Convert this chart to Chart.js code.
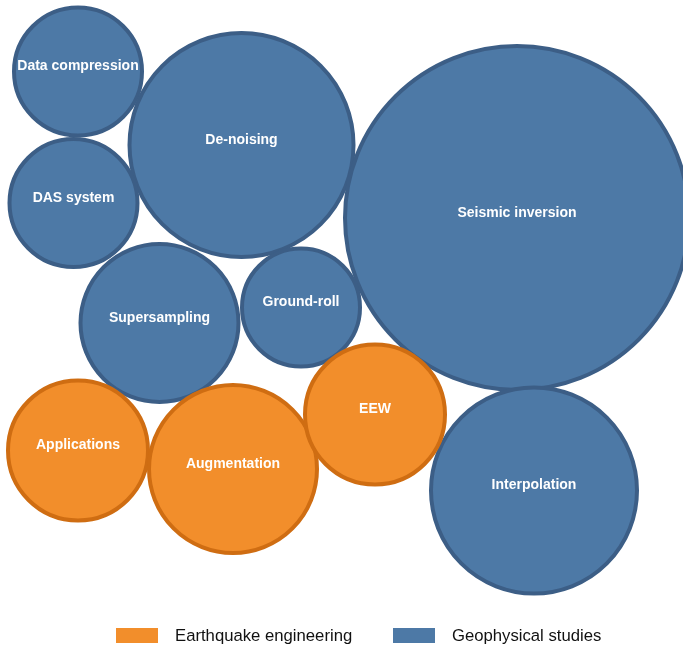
<!DOCTYPE html>
<html>
<head>
<meta charset="utf-8">
<script src="https://cdn.jsdelivr.net/npm/chart.js@4.4.1/dist/chart.umd.min.js"></script>
<style>
  html, body { margin: 0; padding: 0; background: #ffffff; }
  #wrap { position: relative; width: 683px; height: 650px; overflow: hidden; }
  #chart { position: absolute; left: 0; top: 0; }
  .lg-item { position: absolute; top: 628px; height: 15px; display: flex; align-items: center;
             font-family: "Liberation Sans", Arial, sans-serif; font-size: 16.7px; color: #111111; white-space: nowrap; }
  .lg-box { width: 42px; height: 15px; margin-right: 17px; flex: none; }
</style>
</head>
<body>
<div id="wrap">
  <canvas id="chart" width="683" height="650"></canvas>
</div>
<script>
// Series names
const seriesNames = ['Earthquake engineering', 'Geophysical studies'];

// Earthquake engineering topics
const eqLabels = ['Applications', 'Augmentation', 'EEW'];
const eqX = [78, 233, 375];
const eqY = [450.5, 469, 414.5];
const eqR = [70, 84, 70];

// Geophysical studies topics
const geoLabels = ['Data compression', 'De-noising', 'DAS system', 'Seismic inversion', 'Supersampling', 'Ground-roll', 'Interpolation'];
const geoX = [78, 241.5, 73.5, 517, 159.5, 301, 534];
const geoY = [71.5, 145, 203, 218, 323, 307.5, 490.5];
const geoR = [64, 112, 64, 172, 79, 59, 103];

const seriesFill = ['#F28E2B', '#4D79A6'];
const seriesBorder = ['#CF6D12', '#3C5E86'];

function toPoints(xs, ys, rs) {
  return xs.map((x, i) => ({ x: x, y: ys[i], r: rs[i] }));
}

const labelSets = [eqLabels, geoLabels];

const bubbleLabels = {
  id: 'bubbleLabels',
  afterDatasetsDraw(chart) {
    const ctx = chart.ctx;
    ctx.save();
    ctx.font = 'bold 14px "Liberation Sans", Arial, sans-serif';
    ctx.fillStyle = '#ffffff';
    ctx.textAlign = 'center';
    ctx.textBaseline = 'middle';
    chart.data.datasets.forEach((ds, di) => {
      const meta = chart.getDatasetMeta(di);
      meta.data.forEach((el, i) => {
        ctx.fillText(labelSets[di][i], el.x, el.y - 5);
      });
    });
    ctx.restore();
  }
};

const chart = new Chart(document.getElementById('chart'), {
  type: 'bubble',
  data: {
    datasets: [
      {
        label: seriesNames[0],
        data: toPoints(eqX, eqY, eqR),
        backgroundColor: seriesFill[0],
        borderColor: seriesBorder[0],
        borderWidth: 4,
        clip: false
      },
      {
        label: seriesNames[1],
        data: toPoints(geoX, geoY, geoR),
        backgroundColor: seriesFill[1],
        borderColor: seriesBorder[1],
        borderWidth: 4,
        clip: false
      }
    ]
  },
  options: {
    responsive: false,
    animation: false,
    events: [],
    layout: { padding: 0, autoPadding: false },
    scales: {
      x: { type: 'linear', min: 0, max: 683, display: false },
      y: { type: 'linear', min: 0, max: 650, reverse: true, display: false }
    },
    plugins: {
      legend: { display: false },
      tooltip: { enabled: false }
    }
  },
  plugins: [bubbleLabels]
});

// HTML legend built from the datasets
const legendX = [116, 393];
const wrap = document.getElementById('wrap');
chart.data.datasets.forEach((ds, i) => {
  const item = document.createElement('div');
  item.className = 'lg-item';
  item.style.left = legendX[i] + 'px';
  const box = document.createElement('span');
  box.className = 'lg-box';
  box.style.background = ds.backgroundColor;
  const txt = document.createElement('span');
  txt.textContent = ds.label;
  item.appendChild(box);
  item.appendChild(txt);
  wrap.appendChild(item);
});
</script>
</body>
</html>
